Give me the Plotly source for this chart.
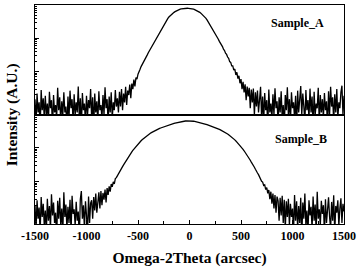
import numpy as np
import plotly.graph_objects as go
from plotly.subplots import make_subplots

# Scan grid (arcsec)
SCAN_START = -1500
SCAN_STEP = 10

# Sample_A intensity (counts), one value per scan step from -1500 to 1500
sample_a = [
    # -1500 .. -700
    15, 3, 22, 6, 12, 2, 28, 7, 16, 4,
    19, 5, 11, 3, 25, 8, 14, 2, 20, 6,
    10, 4, 33, 7, 17, 3, 13, 5, 24, 6,
    9, 2, 18, 4, 27, 8, 15, 3, 21, 5,
    12, 6, 36, 4, 16, 2, 23, 7, 11, 3,
    19, 5, 14, 8, 30, 4, 17, 2, 22, 6,
    13, 3, 26, 7, 10, 4, 20, 5, 34, 8,
    15, 3, 18, 6, 24, 4, 12, 7, 28, 9,
    16,
    # -690 .. 0
    6, 25, 9, 30, 7, 22, 12, 35, 10, 27,
    20, 41, 16, 44, 30, 58, 36, 66, 60, 84,
    110, 118, 142, 160, 182, 210, 240, 285, 320, 370,
    420, 480, 555, 630, 720, 820, 930, 1060, 1200, 1370,
    1560, 1760, 2000, 2250, 2530, 2850, 3200, 3550, 3950, 4350,
    4690, 5030, 5370, 5700, 6020, 6320, 6600, 6850, 7080, 7290,
    7470, 7620, 7740, 7840, 7910, 7950, 7980, 7980, 7950, 7910,
    # 10 .. 700
    7840, 7740, 7620, 7470, 7290, 7080, 6850, 6600, 6320, 6020,
    5700, 5370, 5030, 4690, 4350, 3960, 3560, 3180, 2840, 2520,
    2240, 1990, 1770, 1550, 1360, 1190, 1050, 940, 810, 730,
    620, 565, 470, 430, 360, 330, 275, 250, 200, 190,
    150, 150, 112, 120, 80, 96, 62, 75, 45, 60,
    30, 50, 24, 42, 14, 36, 18, 33, 8, 29,
    12, 31, 5, 24, 9, 27, 6, 20, 35, 4,
    # 710 .. 1500
    18, 3, 23, 7, 14, 2, 29, 6, 11, 4,
    21, 5, 32, 8, 13, 3, 17, 6, 26, 4,
    10, 2, 20, 7, 34, 5, 15, 3, 24, 8,
    12, 4, 19, 2, 27, 6, 16, 37, 5, 22,
    9, 3, 28, 7, 14, 4, 31, 6, 18, 2,
    25, 5, 11, 8, 33, 3, 20, 6, 15, 4,
    23, 7, 13, 2, 26, 5, 35, 9, 17, 3,
    21, 6, 30, 4, 12, 8, 24, 38, 5, 19,
]

# Sample_B intensity (counts), one value per scan step from -1500 to 1500
sample_b = [
    # -1500 .. -960
    20, 4, 28, 8, 17, 3, 35, 9, 22, 5,
    14, 3, 31, 7, 19, 4, 42, 10, 24, 6,
    12, 2, 27, 8, 33, 5, 16, 3, 48, 9,
    21, 4, 18, 6, 29, 3, 38, 11, 15, 5,
    25, 7, 13, 2, 30, 52, 8, 20, 4, 26,
    10, 3, 36, 6, 23,
    # -950 .. -10
    28, 8, 35, 14, 44, 12, 30, 48, 16, 52,
    20, 46, 29, 58, 24, 64, 40, 72, 50, 84,
    70, 98, 85, 122, 130, 150, 165, 190, 215, 245,
    275, 310, 350, 395, 445, 495, 550, 610, 680, 755,
    830, 910, 995, 1090, 1190, 1290, 1390, 1490, 1600, 1720,
    1830, 1950, 2070, 2190, 2300, 2420, 2540, 2660, 2780, 2900,
    3020, 3140, 3260, 3370, 3480, 3590, 3700, 3810, 3920, 4030,
    4140, 4250, 4360, 4470, 4580, 4690, 4800, 4910, 5020, 5130,
    5240, 5350, 5450, 5550, 5650, 5740, 5830, 5910, 5980, 6040,
    6090, 6130, 6160, 6180, 6190,
    # 0 .. 950
    6180, 6160, 6130, 6090, 6040, 5980, 5900, 5820, 5730, 5640,
    5540, 5440, 5340, 5230, 5120, 5010, 4900, 4790, 4680, 4570,
    4460, 4350, 4240, 4130, 4020, 3910, 3800, 3690, 3580, 3470,
    3360, 3250, 3130, 3010, 2890, 2770, 2650, 2530, 2410, 2290,
    2170, 2050, 1930, 1810, 1700, 1580, 1470, 1370, 1270, 1170,
    1070, 980, 890, 810, 735, 660, 595, 530, 475, 425,
    375, 340, 295, 265, 230, 210, 178, 160, 135, 125,
    102, 96, 76, 80, 58, 66, 45, 56, 30, 50,
    22, 44, 16, 40, 12, 36, 27, 7, 33, 10,
    38, 6, 29, 4, 26, 9,
    # 960 .. 1500
    31, 5, 22, 9, 16, 3, 40, 7, 26, 4,
    19, 6, 33, 2, 24, 8, 44, 5, 14, 3,
    28, 10, 18, 4, 36, 7, 21, 3, 50, 8,
    15, 5, 27, 11, 20, 3, 30, 6, 17, 34,
    9, 4, 25, 7, 39, 3, 19, 12, 28, 5,
    16, 32, 6, 22, 13,
]

x_tick_vals = [-1500, -1000, -500, 0, 500, 1000, 1500]
x_tick_text = ["-1500", "-1000", "-500", "0", "500", "1000", "1500"]
panel_labels = ["Sample_A", "Sample_B"]

x_a = SCAN_START + SCAN_STEP * np.arange(len(sample_a))
x_b = SCAN_START + SCAN_STEP * np.arange(len(sample_b))

FONT = "Liberation Serif"

fig = make_subplots(rows=2, cols=1, shared_xaxes=True, vertical_spacing=0)
fig.add_trace(go.Scatter(x=x_a, y=sample_a, mode="lines",
                         line=dict(color="black", width=1.3), showlegend=False), row=1, col=1)
fig.add_trace(go.Scatter(x=x_b, y=sample_b, mode="lines",
                         line=dict(color="black", width=1.3), showlegend=False), row=2, col=1)

common_x = dict(range=[-1500, 1500], showline=True, mirror=True, linecolor="black",
                linewidth=1.2, showgrid=False, zeroline=False)
fig.update_xaxes(**common_x, showticklabels=False, ticks="", row=1, col=1)
fig.update_xaxes(**common_x, tickvals=x_tick_vals, ticktext=x_tick_text,
                 ticks="inside", ticklen=4, tickcolor="black",
                 minor=dict(ticks="inside", ticklen=3, dtick=250, tick0=-1500, tickcolor="black"),
                 tickfont=dict(family=FONT, size=12, color="black", weight="bold"),
                 title=dict(text="<b>Omega-2Theta (arcsec)</b>",
                            font=dict(family=FONT, size=15.5, color="black"), standoff=10),
                 row=2, col=1)

common_y = dict(type="log", showline=True, mirror=True, linecolor="black", linewidth=1.2,
                showgrid=False, zeroline=False, showticklabels=False,
                ticks="inside", ticklen=4, tickcolor="black", dtick=1,
                minor=dict(ticks="inside", ticklen=2, dtick="D1", tickcolor="black"))
fig.update_yaxes(**common_y, range=[0.716, 4.0], row=1, col=1)
fig.update_yaxes(**common_y, range=[0.745, 3.98], row=2, col=1)

fig.add_annotation(text="<b>" + panel_labels[0] + "</b>", xref="x", yref="paper",
                   x=1050, y=0.918, xanchor="center", yanchor="middle", showarrow=False,
                   font=dict(family=FONT, size=12, color="black"))
fig.add_annotation(text="<b>" + panel_labels[1] + "</b>", xref="x2", yref="paper",
                   x=1080, y=0.386, xanchor="center", yanchor="middle", showarrow=False,
                   font=dict(family=FONT, size=12, color="black"))
fig.add_annotation(text="<b>Intensity (A.U.)</b>", xref="paper", yref="paper",
                   x=-0.075, y=0.5, xanchor="center", yanchor="middle",
                   textangle=-90, showarrow=False,
                   font=dict(family=FONT, size=15.5, color="black"))

fig.update_layout(width=360, height=268, margin=dict(l=35, r=13, t=4, b=44),
                  paper_bgcolor="white", plot_bgcolor="white")
fig.write_html("out.html")
